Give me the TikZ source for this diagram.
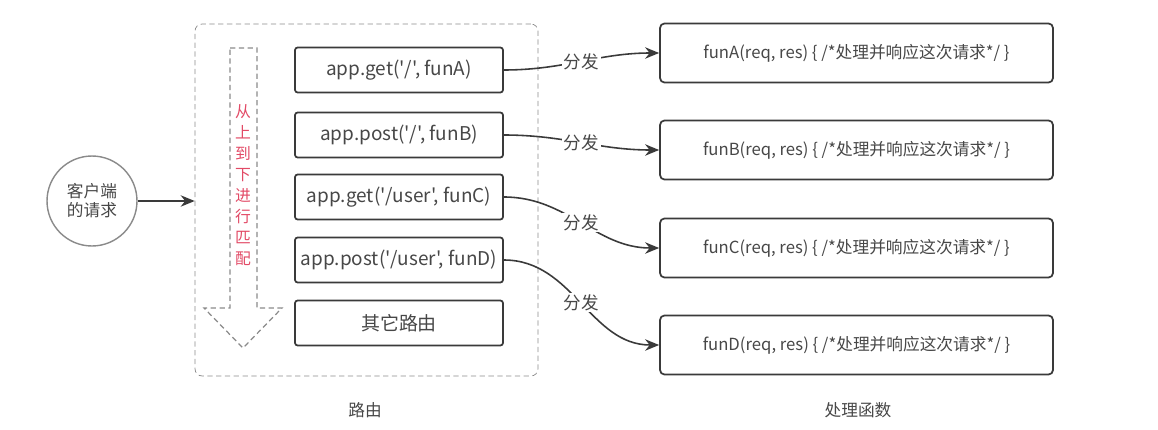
\documentclass[tikz,border=0pt]{standalone}
\usepackage{fontspec}
\setmainfont{Noto Sans CJK SC}[Ligatures=TeXOff]
\usetikzlibrary{arrows.meta}
\definecolor{linegray}{HTML}{3A3A3A}
\definecolor{textgray}{HTML}{474747}
\definecolor{dashgray}{HTML}{8A8A8A}
\definecolor{matchred}{HTML}{E24A66}

\begin{document}
\begin{tikzpicture}[x=0.02cm,y=-0.02cm,
    route/.style={draw=linegray,line width=1pt,rounded corners=1.5pt,
      minimum width=4.16cm,minimum height=0.9cm,text=textgray,
      font=\fontsize{10.8}{12}\selectfont},
    handler/.style={draw=linegray,line width=1pt,rounded corners=2.5pt,
      minimum width=7.86cm,minimum height=1.18cm,text=textgray,
      font=\fontsize{9.5}{12}\selectfont},
    dispatch/.style={draw=linegray,line width=0.9pt,
      -{Stealth[length=8pt,width=6.5pt]}},
    fenfa/.style={fill=white,inner sep=1pt,text=textgray,
      font=\fontsize{10}{12}\selectfont},
    caption/.style={text=textgray,font=\fontsize{9.5}{12}\selectfont}]
  \useasboundingbox (0,0) rectangle (1158,429);

  % the request
  \node[circle,draw=dashgray,line width=0.8pt,minimum size=1.8cm,align=center,
    text=textgray,font=\fontsize{9.5}{10.8}\selectfont] (client) at (92,201)
    {客户端\\的请求};

  % route table
  \node[draw=dashgray,dashed,dash pattern=on 3pt off 2pt,rounded corners=4pt,
    minimum width=6.86cm,minimum height=7.04cm] (routes) at (366.5,200) {};
  \draw[dashgray,dashed,dash pattern=on 3pt off 2pt,line width=0.7pt]
    (230,48) -- (257,48) -- (257,308) -- (282,308) -- (243,348)
    -- (204,308) -- (230,308) -- cycle;
  \node[align=center,text=matchred,font=\fontsize{9}{11.9}\selectfont]
    (order) at (243,185) {从\\上\\到\\下\\进\\行\\匹\\配};

  \node[route] (getA) at (399,70) {app.get('/', funA)};
  \node[route] (postB) at (399,135) {app.post('/', funB)};
  \node[route] (getC) at (399,197) {app.get('/user', funC)};
  \node[route] (postD) at (399,260) {app.post('/user', funD)};
  \node[route] (other) at (399,323) {其它路由};

  % handlers
  \node[handler] (funA) at (856.5,53) {funA(req, res) \{ /*处理并响应这次请求*/ \}};
  \node[handler] (funB) at (856.5,150) {funB(req, res) \{ /*处理并响应这次请求*/ \}};
  \node[handler] (funC) at (856.5,248) {funC(req, res) \{ /*处理并响应这次请求*/ \}};
  \node[handler] (funD) at (856.5,345) {funD(req, res) \{ /*处理并响应这次请求*/ \}};

  \draw[dispatch] (client.east) -- (client.east -| routes.west);
  \draw[dispatch] (getA.east) to[out=0,in=180] node[fenfa] {分发} (funA.west);
  \draw[dispatch] (postB.east) to[out=0,in=180] node[fenfa] {分发} (funB.west);
  \draw[dispatch] (getC.east) to[out=0,in=180] node[fenfa] {分发} (funC.west);
  \draw[dispatch] (postD.east) to[out=0,in=180] node[fenfa] {分发} (funD.west);

  \node[caption] (routecap) at (365,410) {路由};
  \node[caption] (handlercap) at (858,410) {处理函数};
\end{tikzpicture}
\end{document}
